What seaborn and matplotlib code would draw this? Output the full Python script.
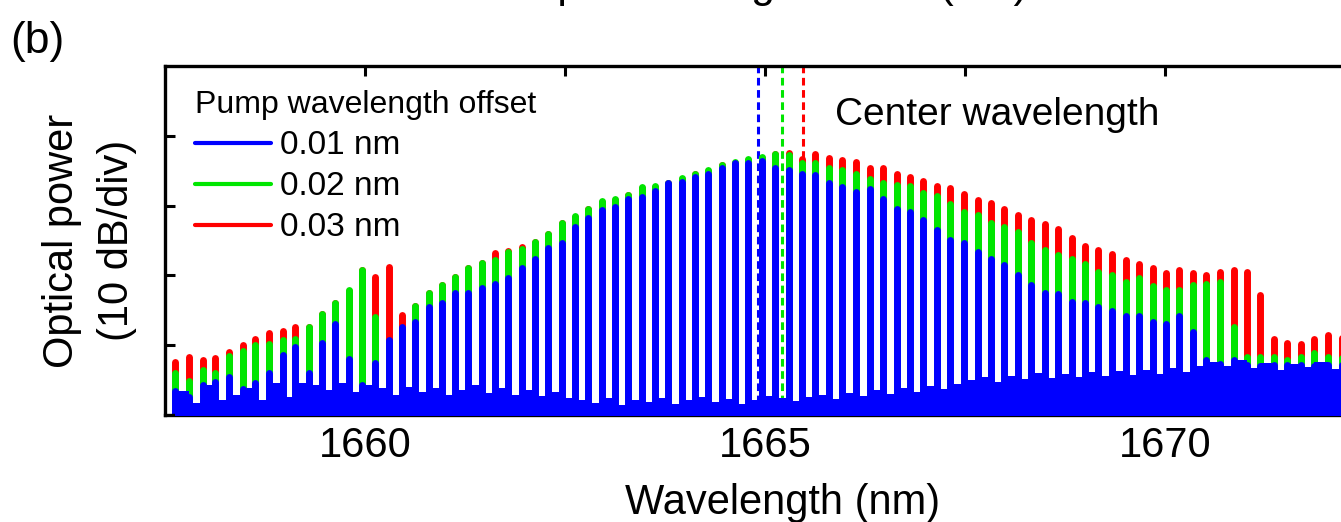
import matplotlib
matplotlib.use("Agg")
import matplotlib.pyplot as plt
from matplotlib.lines import Line2D
import seaborn as sns
import pandas as pd

sns.set_theme(style="ticks")
plt.rcParams['font.family'] = ['Liberation Sans', 'DejaVu Sans']
plt.rcParams['text.color'] = 'black'
plt.rcParams['axes.labelcolor'] = 'black'
plt.rcParams['xtick.color'] = 'black'
plt.rcParams['ytick.color'] = 'black'

# comb line wavelengths (nm)
mode_wl = [
    1657.63, 1657.80, 1657.97, 1658.13, 1658.30, 1658.47, 1658.63, 1658.80, 1658.97, 1659.13,
    1659.30, 1659.46, 1659.63, 1659.80, 1659.96, 1660.13, 1660.30, 1660.46, 1660.63, 1660.80,
    1660.96, 1661.13, 1661.29, 1661.46, 1661.63, 1661.79, 1661.96, 1662.13, 1662.29, 1662.46,
    1662.63, 1662.79, 1662.96, 1663.13, 1663.29, 1663.46, 1663.63, 1663.79, 1663.96, 1664.13,
    1664.29, 1664.46, 1664.63, 1664.79, 1664.96,
    1665.13, 1665.30, 1665.47, 1665.63, 1665.80, 1665.97, 1666.14, 1666.31, 1666.48, 1666.65,
    1666.81, 1666.98, 1667.15, 1667.32, 1667.49,
    1667.66, 1667.83, 1667.99, 1668.16, 1668.33, 1668.50, 1668.67, 1668.84, 1669.00, 1669.17,
    1669.34, 1669.51, 1669.68, 1669.85, 1670.01,
    1670.18, 1670.35, 1670.52, 1670.69, 1670.86, 1671.03, 1671.19, 1671.36, 1671.53, 1671.70,
    1671.87, 1672.04, 1672.21,
]

# peak power of each comb line (dB, 10 dB/div)
peak_003 = [
    -62.5, -61.8, -62.2, -61.9, -61.0, -60.0, -59.2, -58.3, -58.0, -57.4,
    -57.5, -55.6, -54.0, -52.3, -49.3, -50.2, -48.8, -55.7, -54.4, -52.6,
    -51.4, -50.3, -49.0, -48.3, -46.8, -46.5, -46.0, -45.2, -44.0, -42.5,
    -41.6, -40.5, -39.4, -39.2, -38.5, -37.4, -37.3, -36.8, -36.1, -35.5,
    -35.0, -34.2, -33.8, -33.4, -33.1,
    -32.6, -32.4, -33.3, -32.6, -33.2, -33.4, -33.7, -34.6, -34.6, -35.5,
    -35.8, -36.4, -37.2, -37.4, -38.3,
    -39.2, -39.6, -40.4, -41.4, -42.1, -42.6, -43.4, -44.7, -45.8, -46.3,
    -47.0, -47.8, -48.4, -49.0, -49.7,
    -49.3, -49.7, -49.9, -49.5, -49.2, -49.6, -52.8, -59.2, -59.8, -59.9,
    -59.2, -58.6, -59.0,
]
peak_002 = [
    -64.0, -65.2, -63.7, -64.1, -61.6, -60.9, -60.0, -59.9, -59.3, -59.2,
    -57.5, -55.6, -54.0, -52.1, -49.2, -56.0, -60.7, -58.6, -54.4, -52.6,
    -51.4, -50.3, -49.0, -48.3, -47.8, -46.6, -46.2, -45.2, -44.0, -42.5,
    -41.5, -40.4, -39.3, -39.1, -38.4, -37.3, -37.2, -36.7, -36.0, -35.4,
    -34.9, -34.1, -33.7, -33.3, -33.0,
    -32.5, -32.7, -33.9, -33.9, -34.6, -34.9, -35.4, -36.1, -36.7, -37.0,
    -37.2, -38.1, -38.6, -39.8, -40.9,
    -41.4, -42.5, -43.0, -43.8, -45.3, -46.4, -47.1, -47.6, -48.4, -49.5,
    -50.0, -50.9, -50.4, -51.6, -52.1,
    -52.1, -51.4, -51.3, -50.9, -57.4, -61.7, -61.7, -61.7, -62.2, -61.7,
    -61.2, -61.7, -61.9,
]
peak_001 = [
    -66.6, -67.5, -65.8, -65.3, -64.6, -66.3, -65.5, -64.1, -61.5, -60.3,
    -64.1, -59.8, -57.0, -62.1, -65.8, -62.6, -59.3, -57.5, -56.7, -54.6,
    -54.0, -52.6, -52.5, -51.9, -51.2, -50.4, -49.0, -47.6, -46.1, -45.4,
    -43.0, -41.8, -40.6, -40.2, -39.1, -38.7, -37.9, -36.8, -36.6, -35.8,
    -35.4, -34.6, -33.8, -33.8, -33.6,
    -34.6, -34.8, -35.4, -35.6, -36.8, -37.3, -38.0, -37.6, -39.1, -40.5,
    -40.9, -42.1, -43.5, -44.9, -45.4,
    -46.6, -47.6, -48.5, -50.0, -51.4, -52.6, -52.7, -53.8, -54.0, -54.6,
    -55.2, -55.9, -55.9, -56.7, -57.0,
    -55.9, -58.1, -62.2, -62.7, -62.2, -62.9, -63.1, -62.9, -62.9, -62.9,
    -63.1, -62.9, -62.9,
]
# noise floor of the 0.01 nm trace, one level per gap between lines
floor_001 = [
    -66.6, -68.4, -65.8, -67.9, -67.2, -66.2, -67.9, -65.5, -67.5, -65.5,
    -65.8, -66.5, -65.5, -66.8, -65.8, -66.2, -67.2, -66.1, -66.8, -66.2,
    -67.2, -66.5, -65.8, -66.9, -66.2, -67.2, -66.5, -67.4, -66.8, -67.6,
    -67.9, -68.4, -67.6, -68.7, -67.9, -68.2, -67.6, -68.5, -67.9, -67.5,
    -68.2, -67.8, -68.5, -67.9, -67.4, -67.6, -68.1, -67.5, -67.2, -67.8,
    -66.9, -67.4, -66.5, -67.1, -66.2, -66.8, -65.9, -66.4, -65.6,
    -65.1, -64.6, -65.3, -64.5, -64.9, -64.1, -64.8, -64.2, -64.6, -63.9,
    -64.5, -63.8, -64.3, -63.6, -64.2, -63.3, -63.9, -63.0,
    -62.5, -63.0, -62.2, -63.3, -62.6, -63.6, -62.8, -63.2, -62.5, -63.5, -62.9,
]
offsets = ['0.01 nm', '0.02 nm', '0.03 nm']
center_wl = [1664.91, 1665.21, 1665.48]
colors = {'0.01 nm': '#0000ff', '0.02 nm': '#00e600', '0.03 nm': '#ff0000'}

# long-form table: every comb line is a vertical segment from below the axis to its peak
base = -75
rows = []
for lab, peaks in zip(offsets, [peak_001, peak_002, peak_003]):
    for k, (wl, p) in enumerate(zip(mode_wl, peaks)):
        rows.append((lab, k, wl, base))
        rows.append((lab, k, wl, p))
df = pd.DataFrame(rows, columns=['offset', 'mode', 'wl', 'power'])

fig = plt.figure(figsize=(13.41, 5.22), dpi=100)
ax = fig.add_axes([0.123, 0.205, 0.921, 0.6686])

for wl, lab in zip(center_wl, offsets):
    ax.axvline(wl, color=colors[lab], lw=2.2, ls=(0, (2.5, 1.5)), zorder=1)

sns.lineplot(data=df, x='wl', y='power', hue='offset',
             hue_order=['0.03 nm', '0.02 nm', '0.01 nm'], palette=colors,
             units='mode', estimator=None, sort=False, legend=False,
             linewidth=5.0, solid_capstyle='round', ax=ax, zorder=2)

ax.fill_between(mode_wl, base, floor_001, step='post', color=colors['0.01 nm'], lw=0, zorder=3)

ax.set_xlim(1657.5, 1672.94)
ax.set_ylim(-70.1, -19.9)
ax.set_xticks([1660, 1665, 1670])
ax.set_xticks([1662.5, 1667.5], minor=True)
ax.set_yticks([-60, -50, -40, -30])
ax.set_yticklabels([])
ax.tick_params(axis='both', which='both', direction='in', top=True, right=True,
               length=7, width=2.2, labelsize=30, pad=8)
for s in ax.spines.values():
    s.set_linewidth(2.4)
    s.set_color('black')

ax.set_xlabel('Wavelength (nm)', fontsize=30, labelpad=12)
ax.set_ylabel('Optical power\n(10 dB/div)', fontsize=30, linespacing=1.5, labelpad=12)

handles = [Line2D([0], [0], color=colors[o], lw=3) for o in offsets]
leg = ax.legend(handles, offsets, title='Pump wavelength offset', loc='upper left',
                bbox_to_anchor=(0.024, 0.93), frameon=False, fontsize=24,
                title_fontsize=23, handlelength=2.3, handletextpad=0.25,
                labelspacing=0.3, borderpad=0, borderaxespad=0, alignment='left')

ax.text(0.5425, 0.86, 'Center wavelength', transform=ax.transAxes,
        fontsize=28, ha='left', va='center')

fig.text(0.008, 0.92, '(b)', fontsize=32, ha='left', va='center')
fig.text(748 / 1341, 1.006, 'Pump wavelength offset (nm)', fontsize=31,
         ha='center', va='baseline')

fig.savefig('out.png', dpi=100)
